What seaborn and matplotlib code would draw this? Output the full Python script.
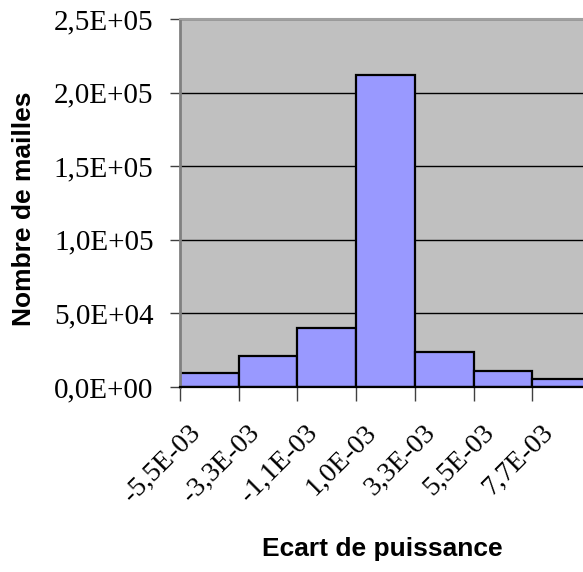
import matplotlib
matplotlib.use("Agg")
import matplotlib.pyplot as plt
import matplotlib.transforms as mtransforms
import seaborn as sns
import pandas as pd

# Histogram of power deviation per mesh cell
bins = ["-5,5E-03", "-3,3E-03", "-1,1E-03", "1,0E-03", "3,3E-03", "5,5E-03", "7,7E-03"]
counts = [9300, 21000, 40000, 212000, 23600, 10900, 5200]
y_ticks = [0, 50000, 100000, 150000, 200000, 250000]
y_tick_labels = ["0,0E+00", "5,0E+04", "1,0E+05", "1,5E+05", "2,0E+05", "2,5E+05"]

df = pd.DataFrame({"bin": bins, "count": counts})

sns.set_theme(style="white")
plt.rcParams["font.family"] = ["Liberation Serif", "DejaVu Serif"]
plt.rcParams["text.color"] = "black"
plt.rcParams["axes.labelcolor"] = "black"
plt.rcParams["xtick.color"] = "black"
plt.rcParams["ytick.color"] = "black"

fig = plt.figure(figsize=(5.83, 5.72), dpi=100)
ax = fig.add_axes([180 / 583, 1 - 387 / 572, 411 / 583, 368 / 572])
ax.set_facecolor("#C0C0C0")

sns.barplot(data=df, x="bin", y="count", ax=ax, width=1.0,
            color="#9999FF", saturation=1, edgecolor="black", linewidth=1.6)

ax.set_xlim(-0.5, len(bins) - 0.5)
ax.set_ylim(0, 250000)
ax.set_axisbelow(True)
ax.yaxis.grid(True, color="black", linewidth=1)
ax.xaxis.grid(False)

# y axis
ax.set_yticks(y_ticks)
ax.set_yticklabels(y_tick_labels, fontsize=21, family=["Liberation Serif"],
                   color="black")
ax.tick_params(axis="y", which="major", direction="out", length=7, width=1,
               color="#404040", labelcolor="black", pad=12, left=True)

# x axis: labels at bar centres, tick marks at bin boundaries
ax.set_xticks(range(len(bins)))
ax.set_xticklabels(bins, fontsize=20, family=["Liberation Serif"],
                   rotation=45, ha="right", va="top", color="black")
ax.set_xticks([i - 0.5 for i in range(len(bins) + 1)], minor=True)
ax.tick_params(axis="x", which="major", length=0, pad=24, labelcolor="black")
ax.tick_params(axis="x", which="minor", direction="out", length=10, width=1,
               color="#404040", bottom=True)
shift = mtransforms.ScaledTranslation(-4 / 100, 0, fig.dpi_scale_trans)
for lbl in ax.get_xticklabels():
    lbl.set_transform(lbl.get_transform() + shift)

ax.set_xlabel("Ecart de puissance", fontsize=19, fontweight="bold",
              family=["Liberation Sans"], labelpad=0, color="black")
ax.set_ylabel("Nombre de mailles", fontsize=19, fontweight="bold",
              family=["Liberation Sans"], labelpad=0, color="black")
ax.xaxis.set_label_coords(382 / 583, 1 - 549 / 572, transform=fig.transFigure)
ax.yaxis.set_label_coords(24 / 583, 1 - 209 / 572, transform=fig.transFigure)
ax.xaxis.label.set_va("center")
ax.yaxis.label.set_va("center")

for side in ["left", "top", "right", "bottom"]:
    ax.spines[side].set_visible(True)
ax.spines["left"].set_color("#808080")
ax.spines["left"].set_linewidth(2)
ax.spines["top"].set_color("#A0A0A0")
ax.spines["top"].set_linewidth(1.5)
ax.spines["bottom"].set_color("black")
ax.spines["bottom"].set_linewidth(1.6)
ax.spines["right"].set_color("#808080")

fig.savefig("out.png", dpi=100)
